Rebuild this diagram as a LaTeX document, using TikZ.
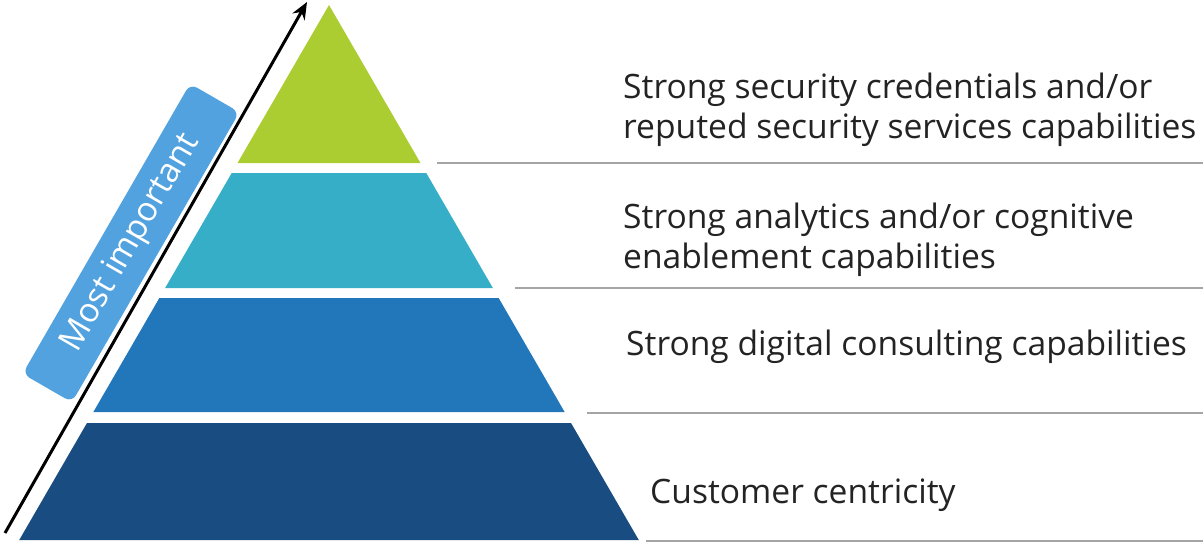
\documentclass[tikz,border=0pt]{standalone}
\usepackage{fontspec}
\setmainfont{Open Sans}
\usetikzlibrary{arrows.meta,positioning}

\definecolor{tiergreen}{RGB}{171,205,50}
\definecolor{tierteal}{RGB}{54,174,199}
\definecolor{tierblue}{RGB}{34,119,186}
\definecolor{tiernavy}{RGB}{25,76,128}
\definecolor{badgeblue}{RGB}{82,162,224}
\definecolor{rulegray}{RGB}{165,165,165}
\definecolor{textgray}{RGB}{35,35,35}

\begin{document}
\begin{tikzpicture}[x=1pt, y=-1pt,
		tier/.style    = {draw=none},
		caption/.style = {anchor=west, align=left, inner sep=0pt, text=textgray, font=\fontsize{33.6}{40}\selectfont},
		divider/.style = {draw=rulegray, line width=1.6pt},
		badge/.style   = {fill=badgeblue, rounded corners=8pt, rotate=60, minimum width=335pt, minimum height=57pt, text=white, font=\fontsize{33.6}{36}\selectfont},
		>={Stealth[length=17pt, width=14pt]}]
		
		% page frame, same size as the reference
		\useasboundingbox (0,0) rectangle (1203,544);
		
		% the four layers of the pyramid, from the top down
		\foreach \top/\bot/\col in {5/163/tiergreen, 173/288/tierteal, 298/412/tierblue, 423/540/tiernavy}
		\fill[tier, \col] ({329-0.579*(\top-5)},\top) -- ({329+0.579*(\top-5)},\top)
		-- ({329+0.579*(\bot-5)},\bot) -- ({329-0.579*(\bot-5)},\bot) -- cycle;
		
		% importance arrow and its badge
		\coordinate (tail) at (5,533);
		\coordinate (head) at (307,2);
		\draw[->, line width=3pt] (tail) -- (head);
		\node[badge] (most) at (131,243) {Most important};
		
		% captions on the right
		\node[caption] (c1) at (623,110) {Strong security credentials and/or\\reputed security services capabilities};
		\node[caption] (c2) at (623,240) {Strong analytics and/or cognitive\\enablement capabilities};
		\node[caption] (c3) at (626,347) {Strong digital consulting capabilities};
		\node[caption] (c4) at (650,495) {Customer centricity};
		
		% rules between the captions
		\foreach \x/\y in {437/163, 515/288, 587/413, 646/541}
		\draw[divider] (\x,\y) -- (1203,\y);
		
	\end{tikzpicture}
\end{document}
